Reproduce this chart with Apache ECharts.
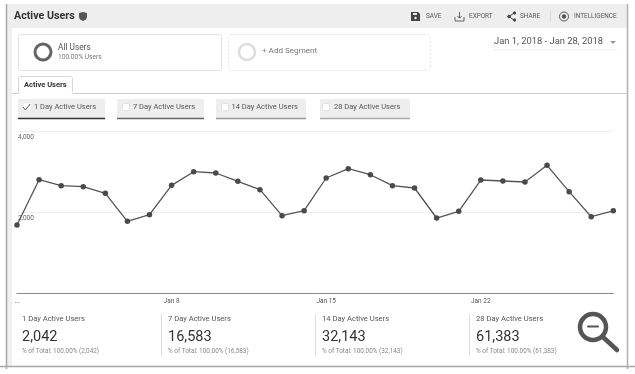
<!DOCTYPE html>
<html><head><meta charset="utf-8">
<style>html,body{margin:0;padding:0;background:#fff}#c{width:635px;height:374px;filter:blur(0.45px)}</style>
<script src="https://cdn.jsdelivr.net/npm/echarts@6/dist/echarts.min.js"></script>
</head><body><div id="c"></div>
<script>
const dates = ['...','','','','','','','Jan 8','','','','','','','Jan 15','','','','','','','Jan 22','','','','','',''];
const activeUsers = [1691,2810,2662,2637,2474,1783,1946,2671,3007,2975,2770,2563,1921,2044,2852,3082,2933,2662,2605,1864,2030,2802,2778,2753,3165,2514,1896,2042];
const yTicks = {4000:'4,000',2000:'2,000'};
const metricNames = ['1 Day Active Users','7 Day Active Users','14 Day Active Users','28 Day Active Users'];
const metricValues = ['2,042','16,583','32,143','61,383'];
const metricTotals = ['% of Total: 100.00% (2,042)','% of Total: 100.00% (16,583)','% of Total: 100.00% (32,143)','% of Total: 100.00% (61,383)'];
const headerActions = ['SAVE','EXPORT','SHARE','INTELLIGENCE'];

const F='Roboto, sans-serif';
const T=(x,y,text,size,fill,extra={})=>({type:'text',z:5,style:{x,y,text,font:`${extra.weight||'normal'} ${size}px ${F}`,fill,verticalAlign:'middle',align:extra.align||'left'}});
const R=(x,y,w,h,fill,stroke,extra={})=>({type:'rect',z:extra.z||1,shape:{x,y,width:w,height:h,r:extra.r||0},style:{fill,stroke:stroke||null,lineWidth:1,lineDash:extra.dash||null}});
const L=(x1,y1,x2,y2,stroke,w=1,z=2)=>({type:'line',z,shape:{x1,y1,x2,y2},style:{stroke,lineWidth:w}});
const C=(cx,cy,r,stroke,w,fill)=>({type:'circle',z:3,shape:{cx,cy,r},style:{stroke,lineWidth:w,fill:fill||null}});
const PG=(points,fill)=>({type:'polygon',z:3,shape:{points},style:{fill}});
const PL=(points,stroke,w)=>({type:'polyline',z:3,shape:{points},style:{stroke,lineWidth:w,fill:null}});

const g=[];
// frame
g.push(R(7,4,620,24,'#eeeeee'));
g.push(R(7,28,5,338,'#f0f0f0'));
g.push(L(6.5,4,6.5,369,'#a8a8a8',1.5));
g.push(L(627.5,4,627.5,369,'#b0b0b0',1.5));
g.push(L(0,366.5,635,366.5,'#a8a8a8',1.5));
// title
g.push(T(14,16.5,'Active Users',10.7,'#333',{weight:'bold'}));
g.push(PG([[79,13],[83,12],[87,13],[87,17],[86,19.5],[83,21],[80,19.5],[79,17]],'#555'));
// header actions
const actX=[426,469,520,574];
headerActions.forEach((t,i)=>g.push(T(actX[i],16.5,t,6.4,'#555')));
g.push(PG([[411,12],[418,12],[420,14],[420,21],[411,21]],'#444'));
g.push(R(413,13,4,2,'#eee',null,{z:4}));
g.push(Object.assign(C(415.5,18,1,'#eee',0.5,'#eee'),{z:4}));
g.push(PL([[455,17],[455,21],[464,21],[464,17]],'#555',0.9),L(459.5,12,459.5,18,'#555',0.9),PL([[457.5,16],[459.5,18.2],[461.5,16]],'#555',0.9));
g.push(L(509,16.5,514,13,'#444',1),L(509,16.5,514,20,'#444',1),C(509,16.5,1.3,'#444',1,'#444'),C(514.5,13,1.2,'#444',1,'#444'),C(514.5,20,1.2,'#444',1,'#444'));
g.push(L(550.5,11,550.5,22,'#ddd',1));
g.push(C(564,16.5,4.5,'#555',1),C(564,16.5,1.8,'#555',1,'#555'));
// segments
g.push(R(18.5,34.5,203,36,'#fff','#e2e2e2',{r:3}));
g.push(R(228.5,34.5,202,36,'#fff','#e2e2e2',{r:3,dash:[2,2]}));
g.push(C(43,52,8,'#666',3),C(247,52,8,'#ddd',2.5));
g.push(T(58,47.5,'All Users',8.3,'#555'),T(58,57.5,'100.00% Users',6.6,'#777'));
g.push(T(262,50.5,'+ Add Segment',8.1,'#777'));
// date
g.push(T(494,42,'Jan 1, 2018 - Jan 28, 2018',9.4,'#555'));
g.push(PG([[610,41],[616,41],[613,44]],'#999'));
g.push(L(493,50,617,50,'#eee',1));
// tab
g.push(L(12,93.5,627,93.5,'#cfcfcf',1));
g.push(R(18.5,76.5,54,17,'#fff','#d8d8d8',{r:2}));
g.push(L(19,93.5,72.5,93.5,'#ffffff',1.5,3));
g.push(T(24,85,'Active Users',7.5,'#333',{weight:'bold'}));
// metric buttons
const btnX=[18,117,216,320], btnW=[87,87,90,90], btnB=['#333','#666','#999','#aaa'], chkX=[23,122,221,322], txtX=[34,133,231.5,334];
metricNames.forEach((n,i)=>{
  g.push(R(btnX[i],99,btnW[i],19,'#eeeeee',null,{r:1}));
  g.push(L(btnX[i],118.5,btnX[i]+btnW[i],118.5,btnB[i],1.5));
  g.push(R(chkX[i]+.5,103.5,7,7,'#fff',i==0?null:'#e4e4e4'));
  g.push(T(txtX[i],107.5,n,7.5,'#555'));
});
g.push(PL([[23,107],[25.5,110],[30,104]],'#444',0.9));
// footer metrics
const mX=[22,168,322,476], divX=[161.5,315.5,469.5];
metricNames.forEach((n,i)=>{
  g.push(T(mX[i],319,n,7.6,'#555'));
  g.push(T(mX[i],337.5,metricValues[i],14.5,'#333'));
  g.push(T(mX[i],351,metricTotals[i],6.4,'#888'));
});
divX.forEach(x=>g.push(L(x,314,x,356,'#ddd',1)));
// zoom-out magnifier
g.push({type:'circle',z:9,shape:{cx:593,cy:327,r:13},style:{stroke:'#555',lineWidth:4.5,fill:'rgba(255,255,255,0.7)'}});
g.push({type:'line',z:9,shape:{x1:604,y1:338,x2:617,y2:350},style:{stroke:'#555',lineWidth:4.5,lineCap:'round'}});
g.push({type:'line',z:9,shape:{x1:588,y1:326.5,x2:598,y2:326.5},style:{stroke:'#555',lineWidth:2,lineCap:'round'}});

const chart=echarts.init(document.getElementById('c'),null,{renderer:'canvas'});
chart.setOption({
  animation:false,
  graphic:{elements:g},
  grid:{left:17,right:21.7,top:131.5,bottom:80.5,containLabel:false},
  xAxis:{type:'category',data:dates,boundaryGap:false,
    axisLine:{lineStyle:{color:'#8a8a8a',width:1}},axisTick:{show:false},splitLine:{show:false},
    axisLabel:{interval:0,color:'#555',fontSize:6.5,fontFamily:F,margin:4,hideOverlap:false,showMinLabel:true,showMaxLabel:true}},
  yAxis:{type:'value',min:0,max:4000,interval:2000,
    axisLine:{show:false},axisTick:{show:false},
    splitLine:{lineStyle:{color:'#eeeeee',width:1}},
    axisLabel:{inside:true,margin:1,color:'#666',fontSize:6.5,fontFamily:F,verticalAlign:'top',padding:[2,0,0,0],
      formatter:v=>yTicks[v]||''}},
  series:[{type:'line',data:activeUsers,z:4,symbol:'circle',symbolSize:5.5,showSymbol:true,
    lineStyle:{color:'#555',width:1.3},itemStyle:{color:'#4a4a4a'}}]
});
</script></body></html>
